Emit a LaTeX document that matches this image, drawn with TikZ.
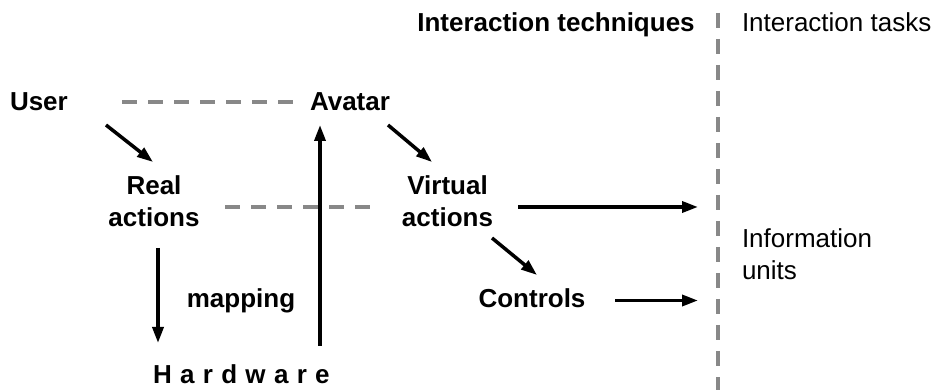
\documentclass[tikz,border=0pt]{standalone}
\usepackage{fontspec}
\setmainfont{Liberation Sans}
\usetikzlibrary{arrows.meta}
\definecolor{dashgray}{RGB}{136,136,136}
\begin{document}
\begin{tikzpicture}[x=1pt,y=-1pt,
  lbl/.style={font={\fontsize{26}{32}\selectfont\bfseries}, inner sep=0pt, outer sep=0pt},
  plain/.style={font={\fontsize{26}{32}\selectfont}, inner sep=0pt, outer sep=0pt},
  arr/.style={-{Triangle[length=16pt,width=11pt]}, line width=3.5pt},
  dsh/.style={draw=dashgray, line width=4pt, dash pattern=on 15pt off 11pt}]
\useasboundingbox (0,0) rectangle (938,390);

% labels
\node[lbl, anchor=base] (tech) at (556,32) {Interaction techniques};
\node[plain, anchor=base west] (tasks) at (742,32) {Interaction tasks};
\node[lbl, anchor=base west] (user) at (10,111) {User};
\node[lbl, anchor=base west] (avatar) at (310,111) {Avatar};
\node[lbl, align=center, anchor=center] (real) at (154,201.5) {Real\\actions};
\node[lbl, align=center, anchor=center] (virt) at (447.5,201.5) {Virtual\\actions};
\node[lbl, anchor=base] (controls) at (532,308) {Controls};
\node[lbl, anchor=base] (mapping) at (241,308) {mapping};
\node[plain, align=left, anchor=west] (info) at (742,254.5) {Information\\units};
\node[lbl, anchor=base west] (hw) at (153,383) {\addfontfeature{LetterSpace=32}Hardware};

% connector end points
\coordinate (uA) at (106,125);   \coordinate (rA) at (153,162);
\coordinate (aA) at (388,125);   \coordinate (vA) at (432,162);
\coordinate (vR) at (518,207);   \coordinate (vRe) at (698,207);
\coordinate (vC) at (492,238);   \coordinate (cA) at (537,275);
\coordinate (cR) at (615,300.5); \coordinate (cRe) at (698,300.5);
\coordinate (rD) at (158,248);   \coordinate (hD) at (158,343);
\coordinate (hU) at (320,346);   \coordinate (aU) at (320,125);
\coordinate (d1s) at (122,102.5); \coordinate (d1e) at (293,102.5);
\coordinate (d2s) at (225,207);   \coordinate (d2e) at (372,207);
\coordinate (vt) at (718,13);     \coordinate (vb) at (718,392);

% dashed lines
\draw[dsh] (d1s) -- (d1e);
\draw[dsh] (d2s) -- (d2e);
\draw[dsh] (vt) -- (vb);

% arrows
\draw[arr] (uA) -- (rA);
\draw[arr] (aA) -- (vA);
\draw[arr] (vR) -- (vRe);
\draw[arr] (vC) -- (cA);
\draw[arr] (cR) -- (cRe);
\draw[arr] (rD) -- (hD);
\draw[arr] (hU) -- (aU);
\end{tikzpicture}
\end{document}
